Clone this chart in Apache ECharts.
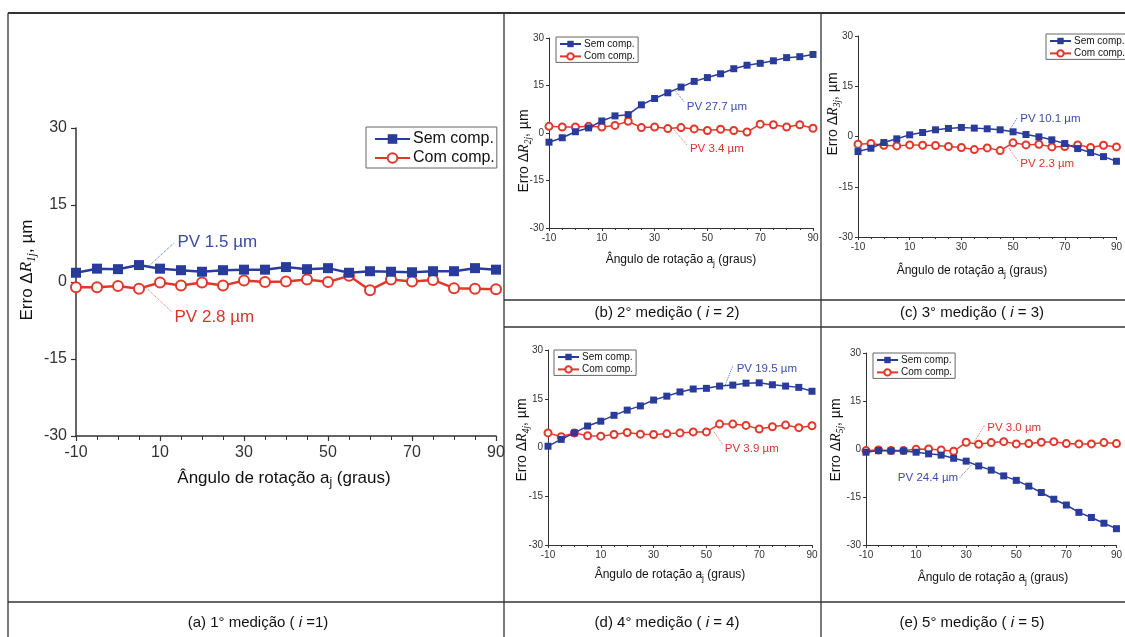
<!DOCTYPE html>
<html><head><meta charset="utf-8">
<script src="https://cdn.jsdelivr.net/npm/echarts/dist/echarts.min.js"></script>
<style>html,body{margin:0;padding:0;background:#fff}#c{width:1125px;height:637px}</style>
</head><body><div id="c"></div>
<script>
// ---- data ----
const angles = [-10,-5,0,5,10,15,20,25,30,35,40,45,50,55,60,65,70,75,80,85,90];
const xTickLabels = [-10,10,30,50,70,90];
const yTickLabels = [-30,-15,0,15,30];
const seriesNames = ['Sem comp.','Com comp.'];
const sem1 = [1.8,2.6,2.5,3.3,2.6,2.3,2.0,2.3,2.4,2.4,2.9,2.5,2.7,1.8,2.1,2.0,1.9,2.1,2.1,2.7,2.4];
const com1 = [-1.0,-1.0,-0.8,-1.3,-0.1,-0.7,-0.1,-0.7,0.3,0.0,0.1,0.5,0.0,1.2,-1.6,0.5,0.1,0.4,-1.2,-1.3,-1.4];
const sem2 = [-2.9,-1.5,0.4,1.6,3.8,5.4,5.8,8.9,10.9,12.7,14.5,16.3,17.5,18.7,20.3,21.4,22.0,22.8,23.8,24.1,24.8];
const com2 = [2.1,1.9,1.9,2.1,1.9,2.4,3.7,1.7,1.9,1.4,1.7,1.3,0.8,1.2,0.8,0.3,2.8,2.6,1.9,2.6,1.5];
const sem3 = [-4.5,-3.5,-1.8,-0.7,0.5,1.2,2.0,2.4,2.7,2.5,2.3,2.0,1.4,0.6,-0.1,-1.0,-2.1,-3.6,-4.8,-6.0,-7.4];
const com3 = [-2.3,-2.1,-2.6,-2.8,-2.5,-2.6,-2.7,-3.0,-3.3,-3.9,-3.4,-4.2,-1.9,-2.5,-2.3,-3.1,-3.0,-2.5,-3.3,-2.6,-3.1];
const sem4 = [0.4,2.5,4.5,6.6,8.1,9.9,11.5,12.8,14.6,15.8,17.1,18.0,18.2,18.9,19.2,19.8,19.9,19.3,18.9,18.5,17.3];
const com4 = [4.5,3.3,4.5,3.6,3.5,4.0,4.6,4.1,4.0,4.2,4.5,4.8,4.8,7.2,7.2,6.8,5.7,6.4,6.9,6.1,6.7];
const sem5 = [-1.0,-0.5,-0.6,-0.6,-1.0,-1.5,-1.9,-2.9,-3.8,-5.3,-6.6,-8.4,-9.8,-11.6,-13.6,-15.7,-17.5,-19.8,-21.4,-23.2,-24.9];
const com5 = [-0.5,-0.3,-0.5,-0.5,-0.1,0.0,-0.3,-0.7,2.1,1.5,2.0,2.3,1.6,1.7,2.1,2.3,1.7,1.6,1.6,2.0,1.7];
const pvSem = ['1.5','27.7','10.1','19.5','24.4'];
const pvCom = ['2.8','3.4','2.3','3.9','3.0'];
const captionLetters = ['a','b','c','d','e'];
const measureNo = ['1','2','3','4','5'];

// ---- layout ----
const P = [
 {g:{left:76,top:128,width:420,height:308}, big:true, sem:sem1, com:com1, lg:{left:366,top:127},
  yt:[27,270], xt:[284,478], cap:[258,623], eq:' =1)',
  sa:{f:[7.1,2.9],t:[13.3,7.6],l:[13.8,7.8],p:'right'}, ca:{f:[6.8,-1.2],t:[12.8,-5.8],l:[13.1,-6.8],p:'right'}},
 {g:{left:549,top:38,width:264,height:190}, sem:sem2, com:com2, lg:{left:556,top:37},
  yt:[524,151], xt:[681,260], cap:[667,313], eq:' = 2)',
  sa:{f:[38.0,13.2],t:[41.2,9.8],l:[41.6,8.4],p:'right'}, ca:{f:[37.5,0.85],t:[42.2,-3.7],l:[42.8,-4.9],p:'right'}},
 {g:{left:858,top:36,width:267,height:201}, sem:sem3, com:com3, lg:{left:1046,top:34},
  yt:[833,114], xt:[972,271], cap:[972,313], eq:' = 3)',
  sa:{f:[48.5,1.7],t:[51.7,5.7],l:[52.2,5.2],p:'right'}, ca:{f:[48.5,-3.6],t:[51.9,-7.3],l:[52.2,-8.1],p:'right'}},
 {g:{left:548,top:350,width:264,height:195}, sem:sem4, com:com4, lg:{left:554,top:350},
  yt:[522,440], xt:[670,575], cap:[667,623], eq:' = 4)',
  sa:{f:[57.1,19.2],t:[60.0,25.1],l:[60.9,24.3],p:'right'}, ca:{f:[52.9,4.8],t:[56.4,0.7],l:[56.4,-0.3],p:'right'}},
 {g:{left:866,top:353,width:263,height:192}, sem:sem5, com:com5, lg:{left:873,top:353},
  yt:[836,440], xt:[993,578], cap:[972,623], eq:' = 5)',
  sa:{f:[32.1,-5.0],t:[27.4,-9.0],l:[27.4,-9.0],p:'left'}, ca:{f:[33.1,2.1],t:[37.4,7.5],l:[37.8,6.7],p:'right'}}
];

const BLUE = '#2a3c9b', RED = '#e2372b', BLUE_T = '#3b4da6', RED_T = '#d9352d';
const FONT = 'Liberation Sans, Arial, sans-serif';

const grids = [], xAxes = [], yAxes = [], series = [], legends = [], graphics = [];

P.forEach((p, i) => {
  const big = !!p.big;
  const tf = big ? 16 : 10;
  grids.push(Object.assign({containLabel:false}, p.g));
  xAxes.push({gridIndex:i, type:'value', min:-10, max:90, interval:20,
    axisLine:{show:true, onZero:false, lineStyle:{color:'#333', width: big?1.5:1}},
    axisTick:{show:true, length: big?5:3, lineStyle:{color:'#333', width: big?1.2:1}},
    minorTick:{show:true, splitNumber:4, length: big?4:2, lineStyle:{color:'#333'}},
    splitLine:{show:false}, minorSplitLine:{show:false},
    axisLabel:{fontSize:tf, color:'#333', margin: big?9:5, fontFamily:FONT,
      formatter: v => xTickLabels.includes(v) ? String(v) : ''}});
  yAxes.push({gridIndex:i, type:'value', min:-30, max:30, interval:15,
    axisLine:{show:true, onZero:false, lineStyle:{color:'#333', width: big?1.5:1}},
    axisTick:{show:true, length: big?5:3, lineStyle:{color:'#333', width: big?1.2:1}},
    splitLine:{show:false},
    axisLabel:{fontSize:tf, color:'#333', margin: big?9:5, fontFamily:FONT,
      formatter: v => yTickLabels.includes(v) ? String(v) : ''}});
  const af = big ? 17 : 11.5;
  const mk = (a, txt, col, tcol) => ({
    markLine:{silent:true, symbol:['none','none'], animation:false,
      lineStyle:{type:'dotted', width:1, color:col}, label:{show:false},
      data:[[{coord:a.f},{coord:a.t}]]},
    markPoint:{silent:true, animation:false, symbol:'circle', symbolSize:1, itemStyle:{color:'rgba(0,0,0,0)'},
      data:[{coord:a.l, label:{show:true, position:a.p, distance:1, formatter:txt, color:tcol, fontSize:af, fontFamily:FONT}}]}
  });
  series.push(Object.assign({name:seriesNames[0], type:'line', xAxisIndex:i, yAxisIndex:i,
    data: angles.map((a,k)=>[a, p.sem[k]]), symbol:'rect', symbolSize: big?10:7,
    lineStyle:{color:BLUE, width: big?2.5:1.5}, itemStyle:{color:BLUE}, z:3},
    mk(p.sa, 'PV ' + pvSem[i] + ' µm', '#5565b5', BLUE_T)));
  series.push(Object.assign({name:seriesNames[1], type:'line', xAxisIndex:i, yAxisIndex:i,
    data: angles.map((a,k)=>[a, p.com[k]]), symbol:'emptyCircle', symbolSize: big?10:7,
    lineStyle:{color:RED, width: big?2.5:1.5}, itemStyle:{color:RED, borderWidth: big?2.2:1.3}, z:2},
    mk(p.ca, 'PV ' + pvCom[i] + ' µm', '#e06a62', RED_T)));
  legends.push({orient:'vertical', left:p.lg.left, top:p.lg.top, data:seriesNames, selectedMode:false,
    borderColor:'#666', borderWidth:1, backgroundColor:'#fff',
    padding: big?[4,2,2,8]:[2,3,1,3], itemGap: big?3:2.4,
    itemWidth: big?35:21, itemHeight: big?12:8,
    textStyle:{fontSize: big?16:10, color:'#111', fontFamily:FONT, padding:[0,0,0,-2]}});

  // axis titles
  const yf = big ? 17 : 14;
  graphics.push({type:'text', x:p.yt[0], y:p.yt[1], rotation:Math.PI/2, z:10,
    style:{text:'{n|Erro Δ}{r|R}{s|' + measureNo[i] + 'j}{n|, µm}', textAlign:'center', textVerticalAlign:'middle', fill:'#111',
      rich:{n:{fontSize:yf, fontFamily:FONT, lineHeight:yf*1.3},
            r:{fontSize:yf, fontFamily:'Liberation Serif, serif', fontStyle:'italic', lineHeight:yf*1.3},
            s:{fontSize:yf*0.68, fontFamily:'Liberation Serif, serif', fontStyle:'italic', verticalAlign:'bottom', lineHeight:yf*0.9}}}});
  const xf = big ? 17 : 12;
  graphics.push({type:'text', x:p.xt[0], y:p.xt[1], z:10,
    style:{text:'{n|Ângulo de rotação a}{s|j}{n| (graus)}', textAlign:'center', textVerticalAlign:'middle', fill:'#111',
      rich:{n:{fontSize:xf, fontFamily:FONT, lineHeight:xf*1.3},
            s:{fontSize:xf*0.7, fontFamily:FONT, verticalAlign:'bottom', lineHeight:xf*1.0}}}});
  graphics.push({type:'text', x:p.cap[0], y:p.cap[1], z:10,
    style:{text:'{n|(' + captionLetters[i] + ') ' + measureNo[i] + '° medição ( }{i|i}{n|' + p.eq + '}', textAlign:'center', textVerticalAlign:'middle', fill:'#111',
      rich:{n:{fontSize:15, fontFamily:FONT}, i:{fontSize:15, fontFamily:FONT, fontStyle:'italic'}}}});
});

// frame lines
const frame = [[8,13,1125,13,2],[8,13,8,637,1.3],[504,13,504,637,1.3],[821,13,821,637,1.3],
  [8,602,1125,602,1.5],[504,300,1125,300,1.3],[504,327,1125,327,1.5]];
frame.forEach(f => graphics.push({type:'line', z:20, shape:{x1:f[0],y1:f[1],x2:f[2],y2:f[3]}, style:{stroke:'#333', lineWidth:f[4]}}));

const chart = echarts.init(document.getElementById('c'), null, {renderer:'canvas'});
chart.setOption({animation:false, backgroundColor:'#fff', textStyle:{fontFamily:FONT},
  grid:grids, xAxis:xAxes, yAxis:yAxes, series:series, legend:legends, graphic:graphics});
</script></body></html>
